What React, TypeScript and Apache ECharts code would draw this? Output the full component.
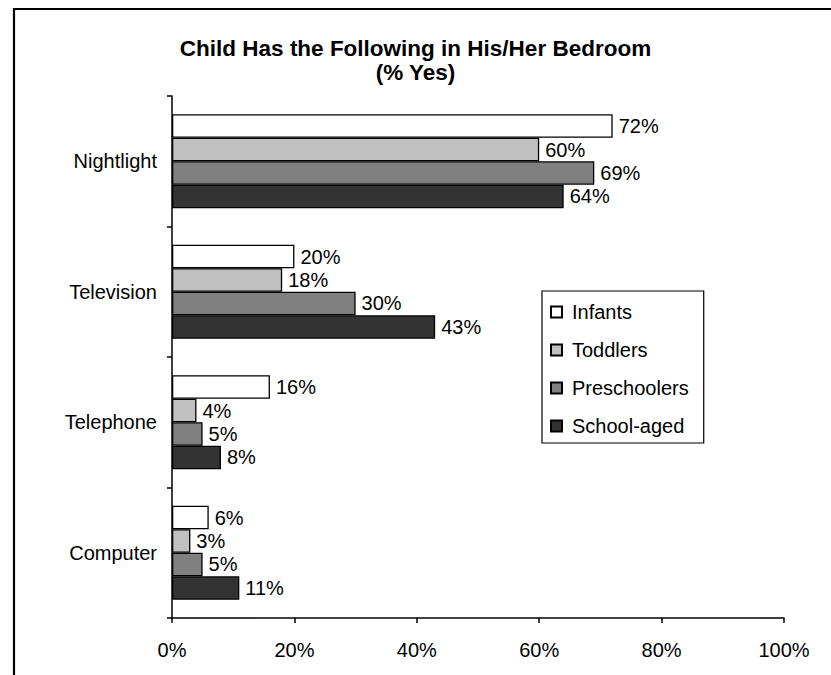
import React, { useEffect, useRef } from "react";
import * as echarts from "echarts";

// Bedroom items asked about, top to bottom
const categories = ["Nightlight", "Television", "Telephone", "Computer"];

// Age groups, in legend order
const groups = ["Infants", "Toddlers", "Preschoolers", "School-aged"];

// % answering "Yes", per item (same order as categories)
const infants = [72, 20, 16, 6];
const toddlers = [60, 18, 4, 3];
const preschoolers = [69, 30, 5, 5];
const schoolAged = [64, 43, 8, 11];

const xTicks = [0, 20, 40, 60, 80, 100];

const FONT = "'Liberation Sans', Arial, sans-serif";
const fills = ["#ffffff", "#c0c0c0", "#808080", "#333333"];

export default function App() {
  const ref = useRef<HTMLDivElement>(null);

  useEffect(() => {
    if (!ref.current) return;
    const chart = echarts.init(ref.current, undefined, { renderer: "svg" });
    const values = [infants, toddlers, preschoolers, schoolAged];

    chart.setOption({
      animation: false,
      backgroundColor: "#ffffff",
      textStyle: { fontFamily: FONT, color: "#000" },
      title: {
        text: "Child Has the Following in His/Her Bedroom\n(% Yes)",
        left: "center",
        top: 31,
        textStyle: {
          fontFamily: FONT,
          fontSize: 22.5,
          fontWeight: "bold",
          color: "#000",
          lineHeight: 24,
        },
      },
      graphic: [
        {
          type: "rect",
          shape: { x: 14, y: 9, width: 900, height: 900 },
          style: { fill: "none", stroke: "#000", lineWidth: 2.2 },
          silent: true,
        },
      ],
      legend: {
        orient: "vertical",
        left: 542,
        top: 291,
        padding: [11, 15, 7, 8],
        itemGap: 18,
        itemWidth: 11,
        itemHeight: 11,
        icon: "rect",
        borderColor: "#000",
        borderWidth: 1.2,
        backgroundColor: "#fff",
        data: groups,
        textStyle: {
          fontFamily: FONT,
          fontSize: 20,
          color: "#000",
          padding: [0, 0, 0, 5],
        },
      },
      grid: { left: 172, right: 47, top: 96, bottom: 57, containLabel: false },
      xAxis: {
        type: "value",
        min: xTicks[0],
        max: xTicks[xTicks.length - 1],
        interval: xTicks[1] - xTicks[0],
        axisLine: { show: true, lineStyle: { color: "#000", width: 1.5 } },
        axisTick: { show: true, length: 5, lineStyle: { color: "#000", width: 1.5 } },
        splitLine: { show: false },
        axisLabel: {
          formatter: "{value}%",
          fontFamily: FONT,
          fontSize: 20,
          color: "#000",
          margin: 22,
        },
      },
      yAxis: {
        type: "category",
        inverse: true,
        data: categories,
        axisLine: { show: true, lineStyle: { color: "#000", width: 1.5 } },
        axisTick: { show: true, length: 5, lineStyle: { color: "#000", width: 1.5 } },
        axisLabel: {
          fontFamily: FONT,
          fontSize: 20,
          color: "#000",
          margin: 15,
        },
      },
      series: groups.map((name, i) => ({
        name,
        type: "bar",
        data: values[i],
        barGap: "0%",
        barCategoryGap: "28%",
        itemStyle: { color: fills[i], borderColor: "#000", borderWidth: 1.3 },
        label: {
          show: true,
          position: "right",
          distance: 6,
          formatter: "{c}%",
          fontFamily: FONT,
          fontSize: 20,
          color: "#000",
        },
      })),
    });

    return () => chart.dispose();
  }, []);

  return (
    <div
      ref={ref}
      style={{ position: "absolute", left: 0, top: 0, width: 831, height: 675 }}
    />
  );
}
